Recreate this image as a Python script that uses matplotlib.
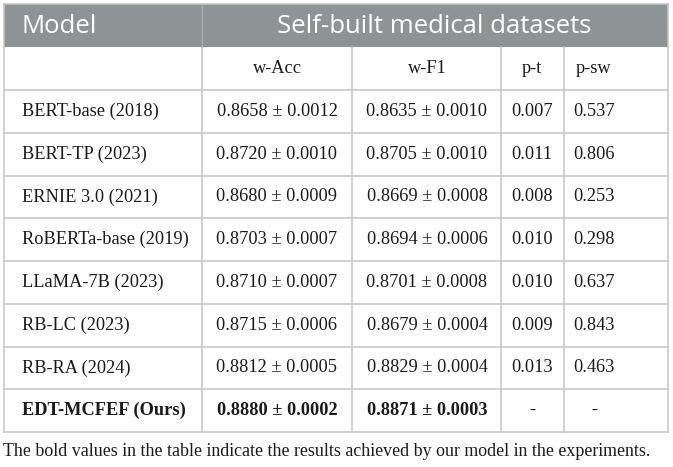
import matplotlib.pyplot as plt
import numpy as np

models = ["BERT-base (2018)", "BERT-TP (2023)", "ERNIE 3.0 (2021)", "RoBERTa-base (2019)",
          "LLaMA-7B (2023)", "RB-LC (2023)", "RB-RA (2024)", "EDT-MCFEF (Ours)"]
w_acc = [0.8658, 0.8720, 0.8680, 0.8703, 0.8710, 0.8715, 0.8812, 0.8880]
w_acc_sd = [0.0012, 0.0010, 0.0009, 0.0007, 0.0007, 0.0006, 0.0005, 0.0002]
w_f1 = [0.8635, 0.8705, 0.8669, 0.8694, 0.8701, 0.8679, 0.8829, 0.8871]
w_f1_sd = [0.0010, 0.0010, 0.0008, 0.0006, 0.0008, 0.0004, 0.0004, 0.0003]
p_t = ["0.007", "0.011", "0.008", "0.010", "0.010", "0.009", "0.013", "-"]
p_sw = ["0.537", "0.806", "0.253", "0.298", "0.637", "0.843", "0.463", "-"]
sub_headers = ["w-Acc", "w-F1", "p-t", "p-sw"]
caption = "The bold values in the table indicate the results achieved by our model in the experiments."

W, H = 673, 467
fig = plt.figure(figsize=(W / 100, H / 100), dpi=100)
ax = fig.add_axes([0, 0, 1, 1])
ax.set_xlim(0, W)
ax.set_ylim(H, 0)
ax.axis('off')

# layout in pixels
col_x = [4, 202, 352, 501, 564, 668]
top, head_bot, sub_bot, bottom = 4, 47, 90, 432
row_y = np.linspace(sub_bot, bottom, len(models) + 1)
centers = [277, 427, 532, 594]
grid_c = '#c4c4c4'
head_c = '#8e9496'

ax.add_patch(plt.Rectangle((col_x[0], top), col_x[-1] - col_x[0], head_bot - top,
                           facecolor=head_c, edgecolor='none'))
ax.plot([col_x[1], col_x[1]], [top, head_bot], color='#a9aeb0', lw=1.0)

# grid
for y in list(row_y):
    ax.plot([col_x[0], col_x[-1]], [y, y], color=grid_c, lw=1.1)
for x in col_x:
    ax.plot([x, x], [head_bot, bottom], color=grid_c, lw=1.1)
ax.plot([col_x[0], col_x[0]], [top, head_bot], color=grid_c, lw=1.1)
ax.plot([col_x[-1], col_x[-1]], [top, head_bot], color=grid_c, lw=1.1)
ax.plot([col_x[0], col_x[-1]], [top, top], color=grid_c, lw=1.1)

hfont = dict(family='Open Sans', size=18.5, color='white', va='center')
ax.text(22, (top + head_bot) / 2 + 1, "Model", ha='left', **hfont)
ax.text(434, (top + head_bot) / 2 + 1, "Self-built medical datasets", ha='center', **hfont)

bfont = dict(family='Liberation Serif', size=13.2, color='#1a1a1a', va='center')
ys = (head_bot + sub_bot) / 2
for cx, s in zip(centers, sub_headers):
    ax.text(cx, ys, s, ha='center', **bfont)

for i, m in enumerate(models):
    y = (row_y[i] + row_y[i + 1]) / 2
    wt = 'bold' if i == len(models) - 1 else 'normal'
    ax.text(22, y, m, ha='left', weight=wt, **bfont)
    cells = [f"{w_acc[i]:.4f} \u00b1 {w_acc_sd[i]:.4f}",
             f"{w_f1[i]:.4f} \u00b1 {w_f1_sd[i]:.4f}", p_t[i], p_sw[i]]
    for j, (cx, s) in enumerate(zip(centers, cells)):
        ax.text(cx, y, s, ha='center', weight=wt if j < 2 else 'normal', **bfont)

ax.text(3, 452, caption, ha='left', va='center', family='Liberation Serif',
        size=12.85, color='#1a1a1a')

fig.savefig('out.png', dpi=100)
